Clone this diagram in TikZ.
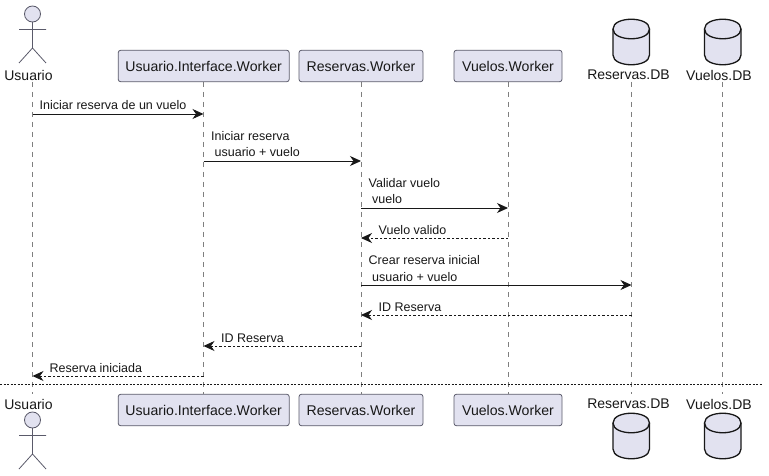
\documentclass[tikz,border=0pt]{standalone}
\usepackage{fontspec}
\setmainfont{Liberation Sans}
\usetikzlibrary{arrows.meta}
\definecolor{partfill}{HTML}{E2E2F0}
\definecolor{partline}{HTML}{5A5A6A}
\definecolor{lifeln}{HTML}{7F7F7F}
\definecolor{ink}{HTML}{181818}
\tikzset{
  x=1pt,y=-1pt,
  part/.style={draw=partline,fill=partfill,rounded corners=2.5pt,line width=.8pt,minimum height=31.5pt,inner sep=0pt,font=\fontsize{14.1}{16}\selectfont,text=ink},
  namelabel/.style={font=\fontsize{14}{16}\selectfont,text=ink,inner sep=0pt},
  lifeline/.style={draw=lifeln,line width=.8pt,dash pattern=on 5pt off 5pt},
  msg/.style={draw=ink,line width=.9pt,-{Stealth[length=11pt,width=10pt,inset=3.5pt,fill=ink]}},
  reply/.style={msg,dash pattern=on 2.5pt off 2pt},
  msgtext/.style={font=\fontsize{12.5}{15.5}\selectfont,text=ink,inner sep=0pt,anchor=base west,align=left},
  actorline/.style={draw=partline,line width=.8pt},
  dbline/.style={draw=ink,line width=1.3pt,fill=partfill},
}
\newcommand{\actorfig}[2]{% x, head y
  \draw[actorline,fill=partfill] (#1,#2) circle[radius=8];
  \draw[actorline] (#1,#2+8) -- (#1,#2+34) (#1-13.5,#2+15.5) -- (#1+13.5,#2+15.5)
    (#1-13.5,#2+49) -- (#1,#2+34) -- (#1+13.5,#2+49);
}
\newcommand{\dbfig}[3]{% left, right, top
  \draw[dbline] (#1,#3+10) .. controls (#1,#3-3) and (#2,#3-3) .. (#2,#3+10)
     -- (#2,#3+36) .. controls (#2,#3+49) and (#1,#3+49) .. (#1,#3+36) -- cycle;
  \draw[dbline,fill=none] (#1,#3+10) .. controls (#1,#3+23) and (#2,#3+23) .. (#2,#3+10);
}
\begin{document}
\begin{tikzpicture}
\useasboundingbox[fill=white] (0,0) rectangle (769,476);
% lifeline positions
\coordinate (lu) at (32.5,0);
\coordinate (li) at (203.5,0);
\coordinate (lr) at (361,0);
\coordinate (lv) at (508,0);
\coordinate (ld) at (631.5,0);
\coordinate (le) at (722.5,0);
% lifeline ends
\coordinate (top) at (0,82);
\coordinate (bot) at (0,394);
\foreach \l in {lu,li,lr,lv,ld,le}{
  \draw[lifeline] (\l |- top) -- (\l |- bot);
}
% divider
\coordinate (dl) at (0,384);
\coordinate (dr) at (763,384);
\draw[draw=ink,line width=.8pt,dash pattern=on 2pt off 1.5pt] (dl) -- (dr);
% top participants
\actorfig{32.5}{14}
\node[namelabel] (uT) at (28.5,75) {Usuario};
\node[part,minimum width=171pt] (iT) at (203.7,66) {Usuario.Interface.Worker};
\node[part,minimum width=124pt] (rT) at (361,66) {Reservas.Worker};
\node[part,minimum width=108pt] (vT) at (508,66) {Vuelos.Worker};
\dbfig{613}{649.5}{19}
\dbfig{704.5}{741}{19}
\node[namelabel] (dT) at (628.5,75) {Reservas.DB};
\node[namelabel] (eT) at (719,75) {Vuelos.DB};
% bottom participants
\node[namelabel] (uB) at (28.5,404) {Usuario};
\actorfig{32.5}{420}
\node[part,minimum width=171pt] (iB) at (203.7,410) {Usuario.Interface.Worker};
\node[part,minimum width=124pt] (rB) at (361,410) {Reservas.Worker};
\node[part,minimum width=108pt] (vB) at (508,410) {Vuelos.Worker};
\node[namelabel] (dB) at (628.5,404) {Reservas.DB};
\node[namelabel] (eB) at (719,404) {Vuelos.DB};
\dbfig{613}{649.5}{413}
\dbfig{704.5}{741}{413}
% messages
\coordinate (m1) at (0,114);
\coordinate (m2) at (0,161);
\coordinate (m3) at (0,208);
\coordinate (m4) at (0,238);
\coordinate (m5) at (0,285);
\coordinate (m6) at (0,315);
\coordinate (m7) at (0,346);
\coordinate (m8) at (0,376);
\draw[msg] (lu |- m1) -- (li |- m1);
\draw[msg] (li |- m2) -- (lr |- m2);
\draw[msg] (lr |- m3) -- (lv |- m3);
\draw[reply] (lv |- m4) -- (lr |- m4);
\draw[msg] (lr |- m5) -- (ld |- m5);
\draw[reply] (ld |- m6) -- (lr |- m6);
\draw[reply] (lr |- m7) -- (li |- m7);
\draw[reply] (li |- m8) -- (lu |- m8);
\node[msgtext] (t1) at (39.5,110) {Iniciar reserva de un vuelo};
\node[msgtext] (t2) at (211,157) {Iniciar reserva\\[1.2pt]\hspace{3.5pt}usuario + vuelo};
\node[msgtext] (t3) at (368.5,204) {Validar vuelo\\[1.2pt]\hspace{3.5pt}vuelo};
\node[msgtext] (t4) at (378.5,234) {Vuelo valido};
\node[msgtext] (t5) at (368.5,281) {Crear reserva inicial\\[1.2pt]\hspace{3.5pt}usuario + vuelo};
\node[msgtext] (t6) at (378.5,311) {ID Reserva};
\node[msgtext] (t7) at (221,342) {ID Reserva};
\node[msgtext] (t8) at (49.5,372) {Reserva iniciada};
\end{tikzpicture}
\end{document}
